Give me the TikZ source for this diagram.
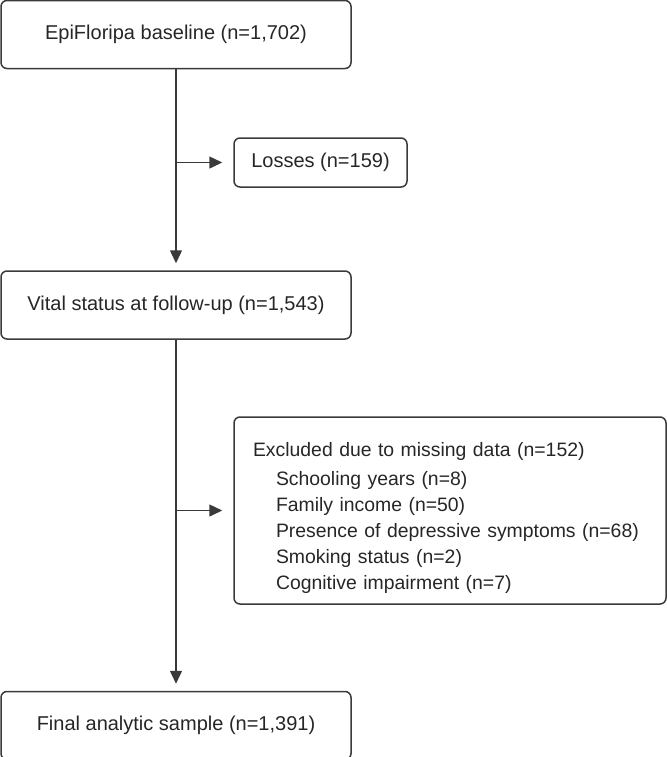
\documentclass[tikz,border=0pt]{standalone}
\usepackage{fontspec}
\setmainfont{Liberation Sans}
\usetikzlibrary{positioning,calc,arrows.meta}

\definecolor{linegray}{HTML}{3A3A3A}
\definecolor{textgray}{HTML}{262626}

\tikzset{
  box/.style={draw=linegray, line width=0.75pt, rounded corners=3pt,
    minimum width=175pt, minimum height=34pt, text=textgray,
    font=\fontsize{10}{13}\selectfont},
  sidebox/.style={box, minimum width=86.5pt, minimum height=24.5pt},
  link/.style={draw=linegray, line width=0.75pt, ->}
}

\begin{document}
\begin{tikzpicture}[>={Triangle[length=6.5pt,width=6pt]}]
  \useasboundingbox (0,0) rectangle (333.5pt,-378.5pt);
  % main column
  \node [box] (baseline) at (88pt,-17.25pt) {EpiFloripa baseline (n=1,702)};
  \node [box, below=100.5pt of baseline] (vital) {Vital status at follow-up (n=1,543)};
  \node [box, below=175.5pt of vital] (final) {Final analytic sample (n=1,391)};
  % side boxes
  \node [sidebox] (losses) at (160.25pt,-81.25pt) {Losses (n=159)};
  \node [sidebox, minimum width=216pt, minimum height=93.5pt, text width=197pt,
    inner xsep=9.5pt, align=left, font=\fontsize{9.7}{13}\selectfont]
    (excluded) at (225pt,-255.25pt)
    {\rule{0pt}{15pt}Excluded due to missing data (n=152)\\[1.5pt]
     \hspace*{11.5pt}Schooling years (n=8)\\
     \hspace*{11.5pt}Family income (n=50)\\
     \hspace*{11.5pt}\mbox{Presence of depressive symptoms (n=68)}\\
     \hspace*{11.5pt}Smoking status (n=2)\\
     \hspace*{11.5pt}Cognitive impairment (n=7)};
  % connectors
  \draw [link, shorten >=3.5pt] (baseline.south) -- (vital.north);
  \draw [link, shorten >=3.5pt] (vital.south) -- (final.north);
  \draw [link, shorten >=5.5pt] (baseline.south |- losses.west) -- (losses.west);
  \draw [link, shorten >=5.5pt] (vital.south |- excluded.west) -- (excluded.west);
\end{tikzpicture}
\end{document}
